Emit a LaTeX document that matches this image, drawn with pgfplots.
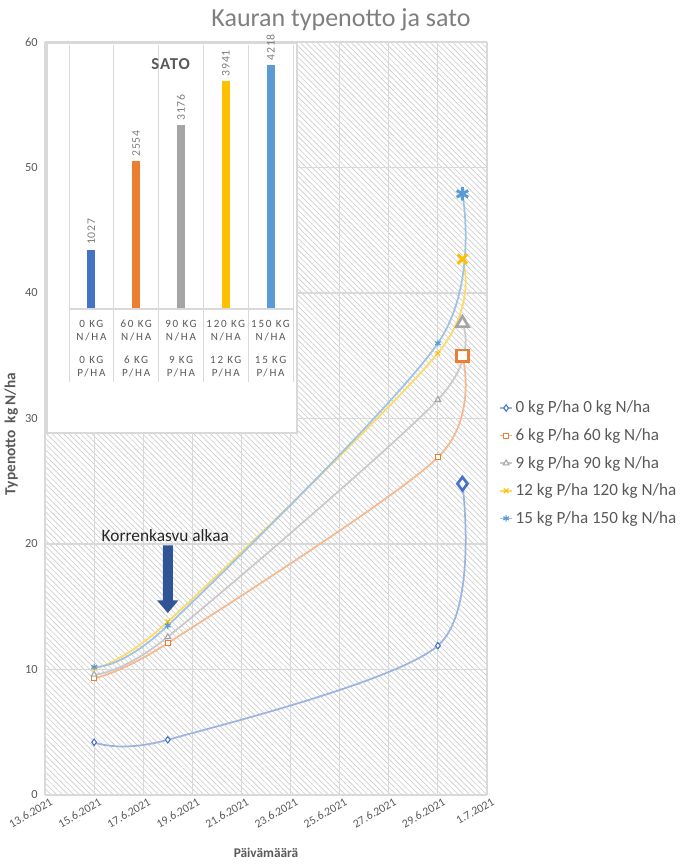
\documentclass[border=0pt]{standalone}
\usepackage{pgfplots}
\pgfplotsset{compat=1.18}
\usepackage{fontspec}
\setmainfont{Carlito}
\newfontfamily\spaced[LetterSpace=16]{Carlito}
\newfontfamily\spacedb[LetterSpace=6]{Carlito}
\usetikzlibrary{patterns.meta}
\definecolor{txt}{HTML}{595959}
\definecolor{titlec}{HTML}{7F7F7F}
\definecolor{gridc}{HTML}{D9D9D9}
\definecolor{hatch}{HTML}{CCCCCC}
\definecolor{arrowc}{HTML}{2F5597}
\definecolor{cA}{HTML}{4472C4}\definecolor{lA}{HTML}{9DB3E0}
\definecolor{cB}{HTML}{ED7D31}\definecolor{lB}{HTML}{F5B88F}
\definecolor{cC}{HTML}{A5A5A5}\definecolor{lC}{HTML}{C9C9C9}
\definecolor{cD}{HTML}{FFC000}\definecolor{lD}{HTML}{FFD966}
\definecolor{cE}{HTML}{5B9BD5}\definecolor{lE}{HTML}{9DC3E6}
\tikzset{catlab/.style={anchor=north, align=center, font=\spaced\fontsize{8.3}{10}\selectfont, text=txt, inner sep=1pt}}
\begin{document}
\begin{tikzpicture}
\useasboundingbox (0,0) rectangle (519pt,651pt);
\begin{axis}[
  at={(33.75pt,54.75pt)}, anchor=south west, scale only axis,
  width=331.5pt, height=564.75pt,
  xmin=0, xmax=18, ymin=0, ymax=60,
  xtick={0,2,...,18},
  xticklabels={13.6.2021,15.6.2021,17.6.2021,19.6.2021,21.6.2021,23.6.2021,25.6.2021,27.6.2021,29.6.2021,1.7.2021},
  ytick={0,10,...,60},
  grid=major, grid style={draw=gridc, line width=0.9pt},
  axis line style={draw=none}, major tick length=0pt,
  axis background/.style={pattern={Lines[angle=-45,distance=3pt,line width=0.5pt]}, pattern color=hatch},
  xticklabel style={rotate=30, anchor=north east, font=\fontsize{8.8}{10}\selectfont, text=txt, yshift=-2pt, xshift=3pt, inner sep=1pt},
  yticklabel style={font=\fontsize{9.3}{11}\selectfont, text=txt, xshift=-2pt},
  /pgf/number format/assume math mode=true,
  legend style={at={(1.027,0.527)}, anchor=north west, draw=none, fill=none,
    font=\fontsize{12.8}{14}\selectfont, text=txt, row sep=6.3pt, inner sep=0pt},
  legend cell align=left,
  legend image code/.code={\draw[mark repeat=2,mark phase=2,#1] plot coordinates {(0cm,0cm) (0.16cm,0cm) (0.32cm,0cm)};},
  every axis plot/.append style={line width=1.3pt, smooth},
]
\addplot[color=lA, mark=diamond*, mark size=2.4pt, mark options={draw=cA, fill=white, solid, line width=0.8pt}]
  coordinates {(2,4.2) (5,4.4) (16,11.9) (17,24.8)};
\addlegendentry{0 kg P/ha 0 kg N/ha}
\addplot[color=lB, mark=square*, mark size=1.9pt, mark options={draw=cB, fill=white, solid, line width=0.8pt}]
  coordinates {(2,9.3) (5,12.1) (16,26.9) (17,35.0)};
\addlegendentry{6 kg P/ha 60 kg N/ha}
\addplot[color=lC, mark=triangle*, mark size=2.4pt, mark options={draw=cC, fill=white, solid, line width=0.8pt}]
  coordinates {(2,9.6) (5,12.6) (16,31.5) (17,37.6)};
\addlegendentry{9 kg P/ha 90 kg N/ha}
\addplot[color=lD, mark=x, mark size=2.4pt, mark options={draw=cD, solid, line width=0.9pt}]
  coordinates {(2,10.1) (5,13.8) (16,35.2) (17,42.7)};
\addlegendentry{12 kg P/ha 120 kg N/ha}
\addplot[color=lE, mark=asterisk, mark size=2.4pt, mark options={draw=cE, solid, line width=0.9pt}]
  coordinates {(2,10.2) (5,13.5) (16,36.0) (17,47.9)};
\addlegendentry{15 kg P/ha 150 kg N/ha}
% big end markers
\addplot[forget plot, only marks, mark=diamond*, mark size=5pt, mark options={draw=cA, fill=white, line width=2pt}] coordinates {(17,24.8)};
\addplot[forget plot, only marks, mark=square*, mark size=4.3pt, mark options={draw=cB, fill=white, line width=2pt}] coordinates {(17,35.0)};
\addplot[forget plot, only marks, mark=triangle*, mark size=5.2pt, mark options={draw=cC, fill=white, line width=2pt}] coordinates {(17,37.6)};
\addplot[forget plot, only marks, mark=x, mark size=5pt, mark options={draw=cD, line width=2.2pt}] coordinates {(17,42.7)};
\addplot[forget plot, only marks, mark=asterisk, mark size=5pt, mark options={draw=cE, line width=2.2pt}] coordinates {(17,47.9)};
% annotation arrow
\fill[arrowc] ([xshift=-3.75pt]axis cs:5,19.9) -- ([xshift=3.75pt]axis cs:5,19.9)
  -- ([xshift=3.75pt]axis cs:5,15.5) -- ([xshift=7.9pt]axis cs:5,15.5)
  -- (axis cs:5,14.5) -- ([xshift=-7.9pt]axis cs:5,15.5)
  -- ([xshift=-3.75pt]axis cs:5,15.5) -- cycle;
\node[font=\fontsize{13}{15}\selectfont, text=black!85] at (axis cs:4.9,20.7) {Korrenkasvu alkaa};
\end{axis}
% titles and axis labels
\node[text=titlec, font=\fontsize{19.5}{22}\selectfont] at (255.75pt,636pt) {Kauran typenotto ja sato};
\node[text=txt, font=\bfseries\fontsize{10}{12}\selectfont] at (199.5pt,11.25pt) {Päivämäärä};
\node[text=txt, font=\bfseries\fontsize{11.5}{13}\selectfont, rotate=90] at (8.5pt,325.5pt) {Typenotto\ \ kg N/ha};
% inset
\draw[fill=white, draw=gridc, line width=0.8pt] (35.25pt,326.25pt) rectangle (222.75pt,618.75pt);
\begin{axis}[
  at={(51.75pt,419.25pt)}, anchor=south west, scale only axis,
  width=168pt, height=198pt,
  xmin=-0.5, xmax=4.5, ymin=0, ymax=4560,
  xtick={-0.5,0.5,1.5,2.5,3.5,4.5}, xticklabels={}, ytick=\empty,
  xmajorgrids, grid style={draw=gridc, line width=0.7pt},
  axis line style={draw=none}, major tick length=0pt,
  clip=false,
  /pgf/number format/1000 sep={},
  /pgf/number format/assume math mode=true,
  nodes near coords,
  every node near coord/.append style={rotate=90, anchor=west, font=\spacedb\fontsize{8.8}{10}\selectfont, text=titlec},
]
\addplot[ybar, bar shift=0pt, bar width=6pt, fill=cA, draw=none] coordinates {(0,1027)};
\addplot[ybar, bar shift=0pt, bar width=6pt, fill=cB, draw=none] coordinates {(1,2554)};
\addplot[ybar, bar shift=0pt, bar width=6pt, fill=cC, draw=none] coordinates {(2,3176)};
\addplot[ybar, bar shift=0pt, bar width=6pt, fill=cD, draw=none] coordinates {(3,3941)};
\addplot[ybar, bar shift=0pt, bar width=6pt, fill=cE, draw=none] coordinates {(4,4218)};
\draw[gridc, line width=0.8pt] (axis cs:-0.5,0) -- (axis cs:4.5,0);
\draw[gridc, line width=0.7pt] (axis cs:-0.5,0) -- (axis cs:-0.5,-1261);
\draw[gridc, line width=0.7pt] (axis cs:0.5,0) -- (axis cs:0.5,-1261);
\draw[gridc, line width=0.7pt] (axis cs:1.5,0) -- (axis cs:1.5,-1261);
\draw[gridc, line width=0.7pt] (axis cs:2.5,0) -- (axis cs:2.5,-1261);
\draw[gridc, line width=0.7pt] (axis cs:3.5,0) -- (axis cs:3.5,-1261);
\draw[gridc, line width=0.7pt] (axis cs:4.5,0) -- (axis cs:4.5,-1261);
\node[font=\spacedb\bfseries\fontsize{12.5}{14}\selectfont, text=txt] at (axis cs:1.77,4230) {SATO};
\node[catlab, yshift=-7pt] at (axis cs:0,0) {0 KG\\N/HA};
\node[catlab, yshift=-7pt] at (axis cs:1,0) {60 KG\\N/HA};
\node[catlab, yshift=-7pt] at (axis cs:2,0) {90 KG\\N/HA};
\node[catlab, yshift=-7pt] at (axis cs:3,0) {120 KG\\N/HA};
\node[catlab, yshift=-7pt] at (axis cs:4,0) {150 KG\\N/HA};
\node[catlab, yshift=-34pt] at (axis cs:0,0) {0 KG\\P/HA};
\node[catlab, yshift=-34pt] at (axis cs:1,0) {6 KG\\P/HA};
\node[catlab, yshift=-34pt] at (axis cs:2,0) {9 KG\\P/HA};
\node[catlab, yshift=-34pt] at (axis cs:3,0) {12 KG\\P/HA};
\node[catlab, yshift=-34pt] at (axis cs:4,0) {15 KG\\P/HA};
\end{axis}
\end{tikzpicture}
\end{document}
